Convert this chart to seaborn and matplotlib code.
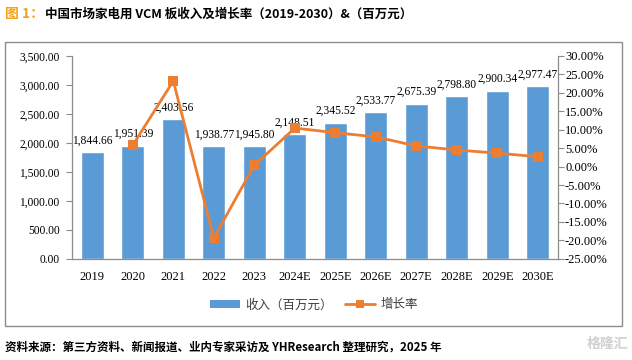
import matplotlib
matplotlib.use("Agg")
import numpy as np
import pandas as pd
import matplotlib.pyplot as plt
import matplotlib.ticker as ticker
import seaborn as sns
from matplotlib.patches import Patch, Rectangle
from matplotlib.lines import Line2D

# data
years = ["2019", "2020", "2021", "2022", "2023", "2024E", "2025E",
         "2026E", "2027E", "2028E", "2029E", "2030E"]
revenue = [1844.66, 1951.39, 2403.56, 1938.77, 1945.80, 2148.51, 2345.52,
           2533.77, 2675.39, 2798.80, 2900.34, 2977.47]
growth = [np.nan, 0.0579, 0.2317, -0.1934, 0.0036, 0.1042, 0.0917,
          0.0803, 0.0559, 0.0448, 0.0363, 0.0266]

BAR_COLOR = "#5B9BD5"
LINE_COLOR = "#ED7D31"
CJK = "Noto Sans CJK SC"

sns.set_style("white")
plt.rcParams["font.family"] = ["Liberation Serif", CJK]

df = pd.DataFrame({"year": years, "revenue": revenue, "growth": growth})
df["pos"] = np.arange(len(df))

fig = plt.figure(figsize=(6.32, 3.6), dpi=100)
ax = fig.add_axes([0.114, 0.281, 0.769, 0.564])

sns.barplot(data=df, x="year", y="revenue", color=BAR_COLOR, saturation=1,
            width=0.57, ax=ax)
ax.set_ylim(0, 3500)
ax.yaxis.set_major_locator(ticker.MultipleLocator(500))
ax.yaxis.set_major_formatter(ticker.FuncFormatter(lambda v, p: f"{v:,.2f}"))
ax.bar_label(ax.containers[0], labels=[f"{v:,.2f}" for v in revenue],
             padding=4, fontsize=8.3, color="black")
ax.set_xlabel("")
ax.set_ylabel("")

ax2 = ax.twinx()
sns.lineplot(data=df.dropna(), x="pos", y="growth", ax=ax2, color=LINE_COLOR,
             linewidth=2, marker="s", markersize=7, markeredgewidth=0,
             legend=False)
ax2.set_ylim(-0.25, 0.30)
ax2.yaxis.set_major_locator(ticker.MultipleLocator(0.05))
ax2.yaxis.set_major_formatter(ticker.FuncFormatter(lambda v, p: f"{v * 100:.2f}%"))
ax2.set_ylabel("")
ax2.set_xlabel("")
ax.set_xlim(-0.5, len(years) - 0.5)

for a in (ax, ax2):
    a.spines["top"].set_visible(False)
    for s in a.spines.values():
        s.set_color("#8c8c8c")
        s.set_linewidth(0.9)
ax.spines["right"].set_visible(False)
ax2.spines["left"].set_visible(False)
ax2.spines["bottom"].set_visible(False)

ax.tick_params(axis="y", left=True, length=4, width=0.8, color="#8c8c8c",
               labelsize=8.3, pad=5, labelcolor="black")
ax.tick_params(axis="x", bottom=False, labelsize=9, pad=5, labelcolor="black")
ax2.tick_params(axis="y", right=True, length=4, width=0.8, color="#8c8c8c",
                labelsize=9, pad=1, labelcolor="black")

handles = [Patch(facecolor=BAR_COLOR, edgecolor="none"),
           Line2D([], [], color=LINE_COLOR, lw=2, marker="s", markersize=6,
                  markeredgewidth=0)]
fig.legend(handles, ["收入（百万元）", "增长率"], loc="center",
           bbox_to_anchor=(0.497, 0.153), ncol=2, frameon=False,
           prop={"family": CJK, "size": 9}, labelcolor="#404040",
           handlelength=2.4, handletextpad=0.4, columnspacing=1.0)

# outer frame
fig.patches.append(Rectangle((5 / 632, 1 - 326 / 360), 617 / 632, 284 / 360,
                             transform=fig.transFigure, fill=False,
                             edgecolor="#8c8c8c", linewidth=1))

fig.text(5 / 632, 1 - 14 / 360, "图 1：", color="#F5A31A", fontsize=10,
         fontweight="bold", family=[CJK], va="center")
fig.text(45 / 632, 1 - 14 / 360,
         "中国市场家电用 VCM 板收入及增长率（2019-2030）&（百万元）",
         color="black", fontsize=9, fontweight="bold", family=[CJK],
         va="center")
fig.text(5 / 632, 1 - 347 / 360,
         "资料来源：第三方资料、新闻报道、业内专家采访及 YHResearch 整理研究，2025 年",
         color="black", fontsize=8.3, fontweight="bold", family=[CJK],
         va="center")
fig.text(628 / 632, 1 - 344 / 360, "格隆汇", color="#d0d0d0", fontsize=10,
         fontweight="bold", family=[CJK], va="center", ha="right")

fig.savefig("out.png", dpi=100)
